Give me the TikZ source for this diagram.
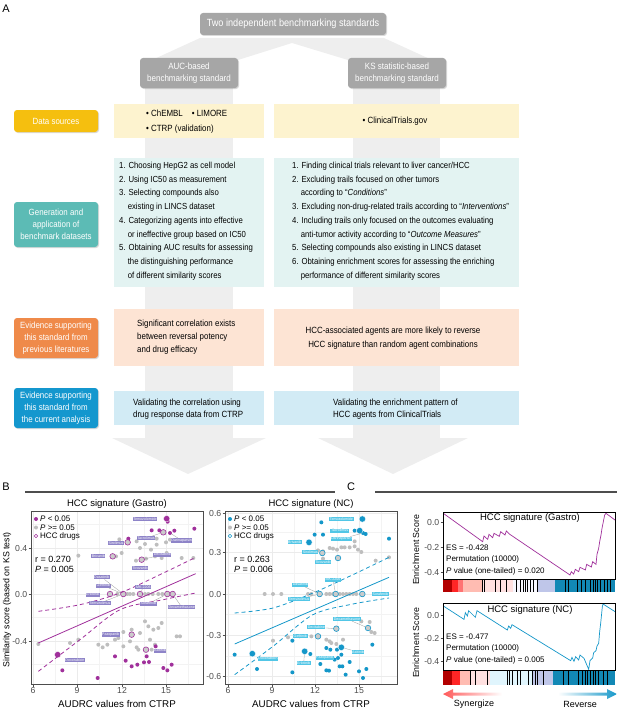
\documentclass[tikz,border=0pt]{standalone}
\usepackage{fontspec}
\setmainfont{Liberation Sans}
\newfontfamily\narrow[FakeStretch=0.88]{Liberation Sans}
\usetikzlibrary{shadows}

\newcommand{\setfs}[2]{\fontsize{#1}{#2}\selectfont}
\newcommand{\indt}{\phantom{0.\ }}

\definecolor{hdrgray}{HTML}{A6A6A6}
\definecolor{fangray}{HTML}{EEEEEE}
\definecolor{dsY}{HTML}{F5BF0F}
\definecolor{dsYp}{HTML}{FDF3CF}
\definecolor{genT}{HTML}{5CBBB5}
\definecolor{genTp}{HTML}{E3F3F2}
\definecolor{litO}{HTML}{EF8A4A}
\definecolor{litOp}{HTML}{FDE4D4}
\definecolor{curB}{HTML}{1497CE}
\definecolor{curBp}{HTML}{D2EBF5}
\definecolor{gas}{HTML}{A0309B}
\definecolor{gaslab}{HTML}{8E84C8}
\definecolor{nc}{HTML}{1497C9}
\definecolor{nclab}{HTML}{52C6E6}
\definecolor{ptgray}{HTML}{BEBEBE}
\definecolor{gridc}{HTML}{EBEBEB}
\definecolor{axc}{HTML}{4D4D4D}

\tikzset{
  shad/.style={drop shadow={opacity=0.3, shadow xshift=1pt, shadow yshift=-1pt}},
  hdr/.style={rounded corners=3pt, fill=hdrgray, text=white, align=center, inner sep=0pt, shad},
  rowlab/.style={rounded corners=3pt, text=white, align=center, inner sep=0pt,
    minimum width=84pt, font=\narrow\setfs{9}{12}, shad},
  body/.style={align=left, inner sep=0pt, anchor=north west, font=\narrow\setfs{8.8}{13.7}},
  sig/.style={circle, fill=#1, inner sep=0pt, minimum size=4pt},
  big/.style={circle, fill=#1, draw=white, line width=0.3pt, inner sep=0pt, minimum size=6.4pt},
  ns/.style={circle, fill=ptgray, inner sep=0pt, minimum size=4pt},
  hcc/.style={circle, fill=ptgray!80, draw=#1, line width=0.6pt, inner sep=0pt, minimum size=5.6pt},
  glab/.style={fill=gaslab, text=white, inner sep=0.6pt, font=\setfs{3.6}{4}},
  nlab/.style={fill=nclab, text=white, inner sep=0.6pt, font=\setfs{3.6}{4}},
  lead/.style={draw=gray!80, line width=0.3pt},
  tick/.style={inner sep=0pt, text=axc, font=\setfs{8.7}{9}},
  leg/.style={inner sep=0pt, anchor=west, font=\setfs{8}{8}},
  stat/.style={inner sep=0pt, anchor=west, font=\setfs{9}{10}},
  ttl/.style={inner sep=0pt, font=\setfs{9.5}{10}},
  frame/.style={draw=axc, line width=0.8pt},
  fit/.style={line width=0.8pt},
  ci/.style={line width=0.8pt, dash pattern=on 4pt off 3pt},
}

\begin{document}
\begin{tikzpicture}[x=1pt,y=-1pt]
\useasboundingbox (0,0) rectangle (617,709);

% A: background fan, shafts, arrow heads
\fill[fangray] (200,38) -- (384,38) -- (432,60) -- (348,60) -- (292,43) -- (238,60) -- (152,60) -- cycle;
\fill[fangray] (145,60) rectangle (233,440);
\fill[fangray] (353,60) rectangle (440,440);
\fill[fangray] (112,438) -- (266,438) -- (188,474) -- cycle;
\fill[fangray] (318,438) -- (468,438) -- (393,474) -- cycle;

\node[inner sep=0pt, font=\setfs{11}{12}] (lblA) at (6,9) {A};

\node[hdr, minimum width=186pt, minimum height=22pt, font=\narrow\setfs{10.4}{12}] (two) at (293,24) {Two independent benchmarking standards};
\node[hdr, minimum width=98pt, minimum height=30pt, font=\narrow\setfs{9.1}{11.5}] (auc) at (189,73) {AUC-based\\benchmarking standard};
\node[hdr, minimum width=98pt, minimum height=30pt, font=\narrow\setfs{9.1}{11.5}] (ks) at (397,73) {KS statistic-based\\benchmarking standard};

% rows
\fill[dsYp] (114,104) rectangle (264,138);
\fill[dsYp] (274,104) rectangle (519,138);
\fill[genTp] (114,158) rectangle (264,287);
\fill[genTp] (274,158) rectangle (519,287);
\fill[litOp] (114,309) rectangle (264,366);
\fill[litOp] (274,309) rectangle (519,366);
\fill[curBp] (114,391) rectangle (264,425);
\fill[curBp] (274,391) rectangle (519,425);

\node[rowlab, fill=dsY, minimum height=22pt] (src) at (56,121) {Data sources};
\node[rowlab, fill=genT, minimum height=45pt] (gen) at (56,224.5) {Generation and\\application of\\benchmark datasets};
\node[rowlab, fill=litO, minimum height=40pt] (lit) at (56,338) {Evidence supporting\\this standard from\\previous literatures};
\node[rowlab, fill=curB, minimum height=40pt] (cur) at (56,408) {Evidence supporting\\this standard from\\the current analysis};

\node[body, font=\narrow\setfs{9}{15}] (srcL) at (146,109.5) {\textbullet\ ChEMBL\quad\textbullet\ LIMORE\\\textbullet\ CTRP (validation)};
\node[body, anchor=center, font=\narrow\setfs{9}{10}] (srcR) at (395,121) {\textbullet\ ClinicalTrials.gov};

\node[body] (genL) at (119,162) {1. Choosing HepG2 as cell model\\
2. Using IC50 as measurement\\
3. Selecting compounds also\\
\indt existing in LINCS dataset\\
4. Categorizing agents into effective\\
\indt or ineffective group based on IC50\\
5. Obtaining AUC results for assessing\\
\indt the distinguishing performance\\
\indt of different similarity scores};
\node[body] (genR) at (292,162) {1. Finding clinical trials relevant to liver cancer/HCC\\
2. Excluding trails focused on other tumors\\
\indt according to “\textit{Conditions}”\\
3. Excluding non-drug-related trails according to “\textit{Interventions}”\\
4. Including trails only focused on the outcomes evaluating\\
\indt anti-tumor activity according to “\textit{Outcome Measures}”\\
5. Selecting compounds also existing in LINCS dataset\\
6. Obtaining enrichment scores for assessing the enriching\\
\indt performance of different similarity scores};

\node[body, font=\narrow\setfs{9}{13}] (litL) at (137,320) {Significant correlation exists\\between reversal potency\\and drug efficacy};
\node[body, anchor=center, align=center, font=\narrow\setfs{9}{14}] (litR) at (393,338) {HCC-associated agents are more likely to reverse\\HCC signature than random agent combinations};
\node[body, font=\narrow\setfs{9}{12.5}] (curL) at (133,398.5) {Validating the correlation using\\drug response data from CTRP};
\node[body, font=\narrow\setfs{9}{12.5}] (curR) at (333,398.5) {Validating the enrichment pattern of\\HCC agents from ClinicalTrials};

% B and C headers
\node[inner sep=0pt, font=\setfs{11}{12}] (lblB) at (6,487) {B};
\node[inner sep=0pt, font=\setfs{11}{12}] (lblC) at (351,487) {C};
\draw[axc, line width=1.2pt] (25,492) -- (335,492);
\draw[axc, line width=1.2pt] (375,492) -- (617,492);

% B left: Gastro
\node[ttl] (tGas) at (117,504) {HCC signature (Gastro)};
\foreach \gx in {55,99.5,144,188} \draw[gridc!60, line width=0.3pt] (\gx,511) -- (\gx,684);
\foreach \gy in {524,571,617,664} \draw[gridc!60, line width=0.3pt] (31,\gy) -- (203,\gy);
\foreach \gx in {33,77,122,166} \draw[gridc, line width=0.6pt] (\gx,511) -- (\gx,684);
\foreach \gy in {548,594,641} \draw[gridc, line width=0.6pt] (31,\gy) -- (203,\gy);
\foreach \v/\gx in {6/33,9/77,12/122,15/166} {
  \draw[axc] (\gx,684) -- (\gx,686.5);
  \node[tick, anchor=north] at (\gx,687) {\v};}
\foreach \v/\gy in {0.4/548,0.0/594,-0.4/641} {
  \draw[axc] (28.5,\gy) -- (31,\gy);
  \node[tick, anchor=east] at (27.5,\gy) {\v};}
\node[ttl, rotate=90, font=\setfs{8.8}{10}] (yGas) at (7,600) {Similarity score (based on KS test)};
\node[ttl, font=\setfs{9.8}{10}] (xGas) at (117,704) {AUDRC values from CTRP};

\begin{scope}[shift={(30,508)}, scale=1/3]
  \clip (3,9) rectangle (519,528);
  \foreach \p [count=\i] in {(145,143),(268,94),(275,135),(258,145),(330,120),(345,108),(363,125),(380,110),
    (408,103),(420,95),(375,145),(395,150),(455,150),(490,150),(410,135),(320,100),(348,152),(318,158),
    (262,258),(292,258),(300,258),(310,258),(345,258),(355,258),(368,258),(385,258),(397,258),
    (25,408),(120,405),(145,395),(205,410),(218,418),(280,372),(305,365),(330,375),(345,340),(355,355),
    (370,365),(385,360),(395,345),(360,395),(320,418),(325,425),(365,425),(375,410),(440,385),(450,385),
    (265,390),(300,400),(255,395),(232,410),(280,415),(380,92)}
    \node[ns] (gn\i) at \p {};
  \foreach \p [count=\i] in {(365,67),(388,67),(433,68),(493,62),(295,92),(97,487),(203,510),(255,445),
    (287,458),(305,475),(322,470),(342,463),(357,462),(350,445),(400,480),(412,487),(425,470),(377,415),
    (413,41),(420,75)}
    \node[sig=gas] (gs\i) at \p {};
  \node[big=gas] (gTem) at (410,32) {};
  \node[big=gas] (gDox) at (83,440) {};
  \node[hcc=gas] (gTac) at (400,73) {};
  \node[hcc=gas] (gSir) at (293,103) {};
  \node[hcc=gas] (gBri) at (248,145) {};
  \node[hcc=gas] (gTiv) at (335,155) {};
  \node[hcc=gas] (gErl) at (240,258) {};
  \node[hcc=gas] (gGef) at (280,258) {};
  \node[hcc=gas] (gMK) at (330,258) {};
  \node[hcc=gas] (gSor) at (412,258) {};
  \node[hcc=gas] (gDex) at (428,258) {};
  \node[hcc=gas] (gPaz) at (305,380) {};
  \node[hcc=gas] (gAxi) at (348,425) {};
  % fit and confidence band
  \draw[gas, fit] (25,405) -- (497,197);
  \draw[gas, ci] plot[smooth] coordinates {(25,310) (150,290) (270,255) (400,195) (497,148)};
  \draw[gas, ci] plot[smooth] coordinates {(25,490) (150,395) (270,305) (400,275) (497,255)};
  % labels
  \node[glab] (gLTem) at (345,33) {Temozolomide};
  \node[glab] (gLTac) at (348,90) {Tacrolimus};
  \node[glab] (gLDar) at (455,97) {Darinaparsin};
  \node[glab] (gLSir) at (258,105) {Sirolimus};
  \node[glab] (gLBri) at (205,145) {Brivanib};
  \node[glab] (gLDec) at (397,140) {Decitabine};
  \node[glab] (gLTiv) at (330,180) {Tivozanib};
  \node[glab] (gLDas) at (215,208) {Dasatinib};
  \node[glab] (gLGef) at (220,233) {Gefitinib};
  \node[glab] (gLMK) at (340,237) {MK-2206};
  \node[glab] (gLErl) at (188,260) {Erlotinib};
  \node[glab] (gLTms) at (210,285) {Temsirolimus};
  \node[glab] (gLSor) at (355,287) {Sorafenib};
  \node[glab] (gLDex) at (455,297) {Dexamethasone};
  \node[glab] (gLPaz) at (242,380) {Pazopanib};
  \node[glab] (gLAxi) at (390,428) {Axitinib};
  \node[glab] (gLDox) at (135,457) {Doxorubicin};
  \draw[lead] (gLTac) -- (gTac);
  \draw[lead] (gLDar) -- (gs20);
  \draw[lead] (gLDec) -- (gTiv);
  \draw[lead] (gLDas) -- (gGef);
  \draw[lead] (gLGef) -- (gGef);
  \draw[lead] (gLTms) -- (gGef);
  \draw[lead] (gLMK) -- (gMK);
  \draw[lead] (gLSor) -- (gSor);
  \draw[lead] (gLDex) -- (gDex);
\end{scope}
\draw[frame] (31,511) rectangle (203,684);
\node[sig=gas] (gLeg1) at (36,519) {};
\node[leg] (gLegT1) at (40,519) {\textit{P} < 0.05};
\node[ns] (gLeg2) at (36,527.5) {};
\node[leg] (gLegT2) at (40,527.5) {\textit{P} >= 0.05};
\node[circle, draw=gas, line width=0.5pt, inner sep=0pt, minimum size=3.6pt] (gLeg3) at (36,536) {};
\node[leg] (gLegT3) at (40,536) {HCC drugs};
\node[stat] (gR) at (35,559) {r = 0.270};
\node[stat] (gP) at (35,569) {\textit{P} = 0.005};

% B right: NC
\node[ttl] (tNC) at (311,504) {HCC signature (NC)};
\foreach \gx in {250,294,337,381} \draw[gridc!60, line width=0.3pt] (\gx,511) -- (\gx,684);
\foreach \gy in {532,573,614,656} \draw[gridc!60, line width=0.3pt] (225,\gy) -- (397,\gy);
\foreach \gx in {228,272,315,359} \draw[gridc, line width=0.6pt] (\gx,511) -- (\gx,684);
\foreach \gy in {513,552,594,635,676} \draw[gridc, line width=0.6pt] (225,\gy) -- (397,\gy);
\foreach \v/\gx in {6/228,9/272,12/315,15/359} {
  \draw[axc] (\gx,684) -- (\gx,686.5);
  \node[tick, anchor=north] at (\gx,687) {\v};}
\foreach \v/\gy in {0.6/513,0.3/552,0.0/594,-0.3/635,-0.6/676} {
  \draw[axc] (222.5,\gy) -- (225,\gy);
  \node[tick, anchor=east] at (221.5,\gy) {\v};}
\node[ttl, font=\setfs{9.8}{10}] (xNC) at (311,704) {AUDRC values from CTRP};

\begin{scope}[shift={(223,508)}, scale=1/3]
  \clip (6,9) rectangle (522,528);
  \foreach \p [count=\i] in {(285,127),(300,130),(320,120),(330,122),(342,125),(355,118),(365,118),(380,118),
    (395,115),(405,125),(415,132),(395,100),(300,152),(458,158),(498,148),
    (125,258),(150,258),(175,258),(255,258),(265,258),(310,258),(320,258),(330,258),(350,258),(360,258),
    (370,258),(380,258),(390,258),(400,258),(150,398),(195,388),(230,385),(265,385),(415,340),(440,342),
    (445,372),(455,375),(320,400),(325,405),(340,408),(360,395),(310,395)}
    \node[ns] (nn\i) at \p {};
  \foreach \p [count=\i] in {(295,43),(275,80),(300,80),(330,68),(355,68),(395,68),(428,78),(498,92),
    (35,440),(102,483),(208,493),(208,398),(262,438),(292,468),(310,487),(318,488),(335,455),(310,420),
    (322,425),(342,425),(345,450),(350,475),(358,475),(368,500),(380,462),(408,490),(420,510),(430,483),
    (448,410),(355,440),(420,75)}
    \node[sig=nc] (ns\i) at \p {};
  \node[big=nc] (nTem) at (418,33) {};
  \node[big=nc] (nTac) at (410,68) {};
  \node[big=nc] (nBri) at (258,103) {};
  \node[big=nc] (nDox) at (88,437) {};
  \node[big=nc] (nErl) at (245,430) {};
  \node[big=nc] (nAxi) at (355,418) {};
  \node[hcc=nc] (nSir) at (298,135) {};
  \node[hcc=nc] (nTiv) at (345,150) {};
  \node[hcc=nc] (nDas) at (290,258) {};
  \node[hcc=nc] (nMK) at (338,258) {};
  \node[hcc=nc] (nSor) at (418,258) {};
  \node[hcc=nc] (nDex) at (435,360) {};
  \node[hcc=nc] (nDec) at (340,362) {};
  \node[hcc=nc] (nGef) at (285,385) {};
  % fit and confidence band
  \draw[nc, fit] (35,408) -- (498,208);
  \draw[nc, ci] plot[smooth] coordinates {(35,315) (150,300) (270,255) (390,200) (498,148)};
  \draw[nc, ci] plot[smooth] coordinates {(35,500) (150,415) (270,320) (390,288) (498,270)};
  % labels
  \node[nlab] (nLTem) at (355,33) {Temozolomide};
  \node[nlab] (nLTac) at (350,68) {Tacrolimus};
  \node[nlab] (nLDar) at (355,93) {Darinaparsin};
  \node[nlab] (nLBri) at (215,103) {Brivanib};
  \node[nlab] (nLSir) at (262,133) {Sirolimus};
  \node[nlab] (nLTiv) at (300,162) {Tivozanib};
  \node[nlab] (nLDas) at (232,230) {Dasatinib};
  \node[nlab] (nLMK) at (330,215) {MK-2206};
  \node[nlab] (nLTms) at (228,273) {Temsirolimus};
  \node[nlab] (nLSor) at (472,258) {Sorafenib};
  \node[nlab] (nLDex) at (372,333) {Dexamethasone};
  \node[nlab] (nLDec) at (280,358) {Decitabine};
  \node[nlab] (nLGef) at (232,385) {Gefitinib};
  \node[nlab] (nLAxi) at (405,432) {Axitinib};
  \node[nlab] (nLPaz) at (305,450) {Pazopanib};
  \node[nlab] (nLErl) at (242,465) {Erlotinib};
  \node[nlab] (nLDox) at (135,452) {Doxorubicin};
  \draw[lead] (nLDar) -- (ns31);
  \draw[lead] (nLDas) -- (nDas);
  \draw[lead] (nLMK) -- (nMK);
  \draw[lead] (nLTms) -- (nDas);
  \draw[lead] (nLDex) -- (nDex);
  \draw[lead] (nLDec) -- (nDec);
  \draw[lead] (nLAxi) -- (nAxi);
  \draw[lead] (nLErl) -- (nErl);
\end{scope}
\draw[frame] (225,511) rectangle (397,684);
\node[sig=nc] (nLeg1) at (230,519) {};
\node[leg] (nLegT1) at (234,519) {\textit{P} < 0.05};
\node[ns] (nLeg2) at (230,527.5) {};
\node[leg] (nLegT2) at (234,527.5) {\textit{P} >= 0.05};
\node[circle, draw=nc, line width=0.5pt, inner sep=0pt, minimum size=3.6pt] (nLeg3) at (230,536) {};
\node[leg] (nLegT3) at (234,536) {HCC drugs};
\node[stat] (nR) at (234,559) {r = 0.263};
\node[stat] (nP) at (234,569) {\textit{P} = 0.006};

% C: enrichment plots
\node[ttl, rotate=90, font=\setfs{8.8}{10}] (yC1) at (416,550) {Enrichment Score};
\node[ttl, rotate=90, font=\setfs{8.8}{10}] (yC2) at (416,643) {Enrichment Score};
\foreach \v/\gy in {0.0/522,-0.2/547,-0.4/572} {
  \draw[axc] (440.5,\gy) -- (443,\gy);
  \node[tick, anchor=east] at (439.5,\gy) {\v};}
\foreach \v/\gy in {0.0/615,-0.2/638,-0.4/661} {
  \draw[axc] (440.5,\gy) -- (443,\gy);
  \node[tick, anchor=east] at (439.5,\gy) {\v};}

% barcode strips
\fill[red!70!black] (443,579) rectangle (452,592);
\fill[red!85!white] (452,579) rectangle (458,592);
\fill[red!55!white] (458,579) rectangle (463,592);
\fill[orange!25!red!30] (463,579) rectangle (482,592);
\fill[red!12] (482,579) rectangle (513,592);
\fill[blue!3] (513,579) rectangle (537,592);
\fill[cyan!35!blue!25] (537,579) rectangle (555,592);
\fill[nc!90!black] (555,579) rectangle (615,592);
\foreach \bx in {482,484,495,500,506,516,520,523,525,527,530,533,537,565,568,577,581,585,590,593,595,597,600,604,607,610}
  \draw[black, line width=0.5pt] (\bx,579) -- (\bx,592);
\fill[red!70!black] (443,670) rectangle (452,685);
\fill[red!85!white] (452,670) rectangle (460,685);
\fill[orange!25!red!30] (460,670) rectangle (470,685);
\fill[red!12] (470,670) rectangle (490,685);
\fill[cyan!12] (490,670) rectangle (533,685);
\fill[cyan!35!blue!25] (533,670) rectangle (553,685);
\fill[nc!90!black] (553,670) rectangle (615,685);
\foreach \bx in {470,475,487,507,509,512,517,520,528,532,535,537,543,563,568,578,582,585,587,590,593,595,598,603,607}
  \draw[black, line width=0.5pt] (\bx,670) -- (\bx,685);

\fill[white] (443,512) rectangle (615,579);
\begin{scope}
  \clip (443,512) rectangle (615,579);
  \begin{scope}[shift={(300,515)}, scale=1/3]
    \draw[gas, line width=0.7pt] (430,-5) -- (548,80) -- (552,63) -- (563,73) -- (567,58) -- (578,68) -- (582,55)
      -- (598,64) -- (602,50) -- (615,60) -- (619,48) -- (628,57) -- (810,180) -- (814,170) -- (821,177)
      -- (826,163) -- (836,170) -- (840,157) -- (856,165) -- (860,148) -- (874,156) -- (878,140) -- (888,148)
      -- (891,118) -- (896,100) -- (899,80) -- (903,60) -- (906,40) -- (910,20) -- (914,0) -- (918,-5) -- (945,15);
  \end{scope}
\end{scope}
\draw[draw=black, line width=0.8pt] (443,512) rectangle (615,579);
\node[ttl] (cT1) at (530,518) {HCC signature (Gastro)};
\node[leg, font=\setfs{8}{9}] (cES1) at (446,548) {ES = -0.428};
\node[leg, font=\setfs{8}{9}] (cPm1) at (446,559.5) {Permutation (10000)};
\node[leg, font=\setfs{8}{9}] (cPv1) at (446,571) {\textit{P} value (one-tailed) = 0.020};

\fill[white] (443,603) rectangle (615,670);
\begin{scope}
  \clip (443,603) rectangle (615,670);
  \begin{scope}[shift={(420,590)}, scale=1/3]
    \draw[nc, line width=0.7pt] (70,48) -- (132,88) -- (136,68) -- (142,78) -- (146,62) -- (166,82) -- (171,62)
      -- (262,120) -- (266,108) -- (272,115) -- (276,104) -- (452,212) -- (456,202) -- (462,214) -- (467,200)
      -- (476,210) -- (480,195) -- (492,205) -- (506,238) -- (510,212) -- (518,204) -- (521,188) -- (528,182)
      -- (531,168) -- (536,160) -- (539,125) -- (542,100) -- (544,80) -- (547,50) -- (549,42) -- (590,68);
  \end{scope}
\end{scope}
\draw[draw=black, line width=0.8pt] (443,603) rectangle (615,670);
\node[ttl] (cT2) at (530,610) {HCC signature (NC)};
\node[leg, font=\setfs{8}{9}] (cES2) at (446,637) {ES = -0.477};
\node[leg, font=\setfs{8}{9}] (cPm2) at (446,648.5) {Permutation (10000)};
\node[leg, font=\setfs{8}{9}] (cPv2) at (446,660) {\textit{P} value (one-tailed) = 0.005};

% direction arrows
\shade[left color=red!65, right color=white] (443,694) -- (453,689) -- (453,692.5) -- (502,692.5)
  -- (502,695.5) -- (453,695.5) -- (453,699) -- cycle;
\shade[left color=white, right color=nc] (558,692.5) -- (607,692.5) -- (607,689) -- (617,694)
  -- (607,699) -- (607,695.5) -- (558,695.5) -- cycle;
\node[ttl, font=\setfs{9}{10}] (syn) at (474,704) {Synergize};
\node[ttl, font=\setfs{9}{10}] (rev) at (580,704) {Reverse};
\end{tikzpicture}
\end{document}
